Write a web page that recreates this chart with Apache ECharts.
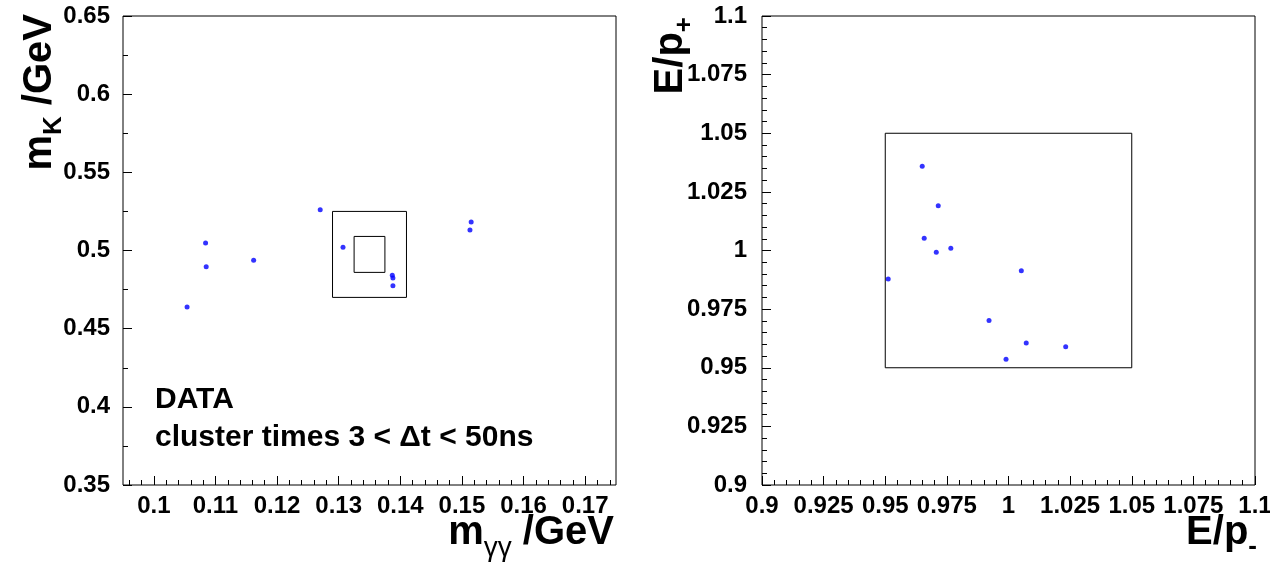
<!DOCTYPE html>
<html>
<head>
<meta charset="utf-8">
<script src="https://cdn.jsdelivr.net/npm/echarts@6/dist/echarts.min.js"></script>
<style>
  html, body { margin: 0; padding: 0; background: #fff; }
  #chart { width: 1270px; height: 565px; }
</style>
</head>
<body>
<div id="chart"></div>
<script>
// left panel: m_gg vs m_K
const leftX = [0.1054, 0.1084, 0.1085, 0.1162, 0.1270, 0.1307, 0.1387, 0.1388, 0.1388, 0.1515, 0.1513]
const leftY = [0.4638, 0.5048, 0.4896, 0.4937, 0.5261, 0.5020, 0.4841, 0.4824, 0.4775, 0.5182, 0.5131]
// box = [xmin, xmax, ymin, ymax]
const leftOuterBox = [0.129, 0.141, 0.470, 0.525]
const leftInnerBox = [0.1325, 0.1375, 0.486, 0.509]

// right panel: E/p- vs E/p+
const rightX = [0.9650, 0.9715, 0.9658, 0.9707, 0.9766, 0.9512, 1.0052, 0.9921, 1.0072, 1.0232, 0.9990]
const rightY = [1.0359, 1.0191, 1.0052, 0.9993, 1.0010, 0.9878, 0.9914, 0.9702, 0.9606, 0.9590, 0.9536]
const rightBox = [0.95, 1.05, 0.95, 1.05]

// tick values and labels
const leftXTicks = [0.10, 0.11, 0.12, 0.13, 0.14, 0.15, 0.16, 0.17]
const leftXLabels = ['0.1', '0.11', '0.12', '0.13', '0.14', '0.15', '0.16', '0.17']
const leftYTicks = [0.35, 0.40, 0.45, 0.50, 0.55, 0.60, 0.65]
const leftYLabels = ['0.35', '0.4', '0.45', '0.5', '0.55', '0.6', '0.65']
const rightTicks = [0.9, 0.925, 0.95, 0.975, 1.0, 1.025, 1.05, 1.075, 1.1]
const rightLabels = ['0.9', '0.925', '0.95', '0.975', '1', '1.025', '1.05', '1.075', '1.1']

const FONT = "'Liberation Sans', Arial, Helvetica, sans-serif"

const minorTicks = (from, to, step, majors) => {
  const out = []
  for (let v = from; v <= to + step / 2; v += step) {
    const r = Math.round(v * 10000) / 10000
    if (!majors.some((m) => Math.abs(m - r) < step / 10)) out.push(r)
  }
  return out
}

const labelFor = (ticks, labels) => (v) => {
  const i = ticks.findIndex((t) => Math.abs(t - v) < 1e-6)
  return i >= 0 ? labels[i] : ''
}

const majorAxis = (gridIndex, pos, min, max, ticks, labels, margin) => ({
  type: 'value', gridIndex, position: pos, min, max,
  axisLine: { show: false, onZero: false },
  splitLine: { show: false },
  axisTick: { show: true, inside: true, length: 9, customValues: ticks, lineStyle: { color: '#000', width: 1 } },
  axisLabel: {
    show: true, customValues: ticks, formatter: labelFor(ticks, labels), margin,
    color: '#000', fontFamily: FONT, fontWeight: 'bold', fontSize: 24,
    showMinLabel: true, showMaxLabel: true, hideOverlap: false,
  },
})

const minorAxis = (gridIndex, pos, min, max, ticks) => ({
  type: 'value', gridIndex, position: pos, min, max,
  axisLine: { show: false, onZero: false },
  splitLine: { show: false },
  axisTick: { show: true, inside: true, length: 5, customValues: ticks, lineStyle: { color: '#000', width: 1 } },
  axisLabel: { show: false },
})

const boxData = (b) => [[b[0], b[2]], [b[1], b[2]], [b[1], b[3]], [b[0], b[3]], [b[0], b[2]]]

const boxSeries = (b, xi, yi) => ({
  type: 'line', xAxisIndex: xi, yAxisIndex: yi, data: boxData(b),
  symbol: 'none', silent: true, lineStyle: { color: '#000', width: 1 },
})

const dotSeries = (xs, ys, xi, yi) => ({
  type: 'scatter', xAxisIndex: xi, yAxisIndex: yi,
  data: xs.map((x, i) => [x, ys[i]]),
  symbol: 'circle', symbolSize: 5, itemStyle: { color: '#0000ff' }, silent: true,
})

// main glyphs sit at the top of the line box, subscripts at its bottom
const titleRich = {
  a: { fontFamily: FONT, fontWeight: 'bold', fontSize: 40, lineHeight: 40, verticalAlign: 'top', color: '#000' },
  s: { fontFamily: FONT, fontWeight: 'bold', fontSize: 26, lineHeight: 47, verticalAlign: 'bottom', color: '#000' },
  g: { fontFamily: FONT, fontWeight: 'normal', fontSize: 28, lineHeight: 49, verticalAlign: 'bottom', color: '#000' },
}

const textLine = (x, y, text, size) => ({
  type: 'text', x, y, silent: true,
  style: { text, fill: '#000', font: `bold ${size}px ${FONT}`, textAlign: 'left', textVerticalAlign: 'middle' },
})

const option = {
  animation: false,
  backgroundColor: '#fff',
  grid: [
    { left: 123, top: 16, width: 493, height: 469, show: true, borderColor: '#000', borderWidth: 1, backgroundColor: 'transparent', containLabel: false, outerBoundsMode: 'none' },
    { left: 762, top: 16, width: 493, height: 469, show: true, borderColor: '#000', borderWidth: 1, backgroundColor: 'transparent', containLabel: false, outerBoundsMode: 'none' },
  ],
  xAxis: [
    majorAxis(0, 'bottom', 0.095, 0.175, leftXTicks, leftXLabels, 9),
    minorAxis(0, 'bottom', 0.095, 0.175, minorTicks(0.096, 0.174, 0.002, leftXTicks)),
    majorAxis(1, 'bottom', 0.9, 1.1, rightTicks, rightLabels, 9),
    minorAxis(1, 'bottom', 0.9, 1.1, minorTicks(0.905, 1.095, 0.005, rightTicks)),
  ],
  yAxis: [
    majorAxis(0, 'left', 0.35, 0.65, leftYTicks, leftYLabels, 13),
    minorAxis(0, 'left', 0.35, 0.65, minorTicks(0.375, 0.625, 0.05, [])),
    majorAxis(1, 'left', 0.9, 1.1, rightTicks, rightLabels, 15),
    minorAxis(1, 'left', 0.9, 1.1, minorTicks(0.905, 1.095, 0.005, rightTicks)),
  ],
  series: [
    boxSeries(leftOuterBox, 0, 0),
    boxSeries(leftInnerBox, 0, 0),
    dotSeries(leftX, leftY, 0, 0),
    boxSeries(rightBox, 2, 2),
    dotSeries(rightX, rightY, 2, 2),
  ],
  graphic: [
    // axis titles
    { type: 'text', x: 614, y: 513, silent: true,
      style: { text: '{a|m}{g|γγ}{a| /GeV}', rich: titleRich, textAlign: 'right', textVerticalAlign: 'top' } },
    { type: 'text', x: 1257, y: 513, silent: true,
      style: { text: '{a|E/p}{s|-}', rich: titleRich, textAlign: 'right', textVerticalAlign: 'top' } },
    { type: 'text', x: 20, y: 14, rotation: Math.PI / 2, silent: true,
      style: { text: '{a|m}{s|K}{a| /GeV}', rich: titleRich, textAlign: 'right', textVerticalAlign: 'top' } },
    { type: 'text', x: 651, y: 17, rotation: Math.PI / 2, silent: true,
      style: { text: '{a|E/p}{s|+}', rich: titleRich, textAlign: 'right', textVerticalAlign: 'top' } },
    // annotation
    textLine(155, 400, 'DATA', 30),
    textLine(155, 438, 'cluster times 3 < Δt < 50ns', 30),
  ],
}

const chart = echarts.init(document.getElementById('chart'), null, { renderer: 'canvas' })
chart.setOption(option)
</script>
</body>
</html>
